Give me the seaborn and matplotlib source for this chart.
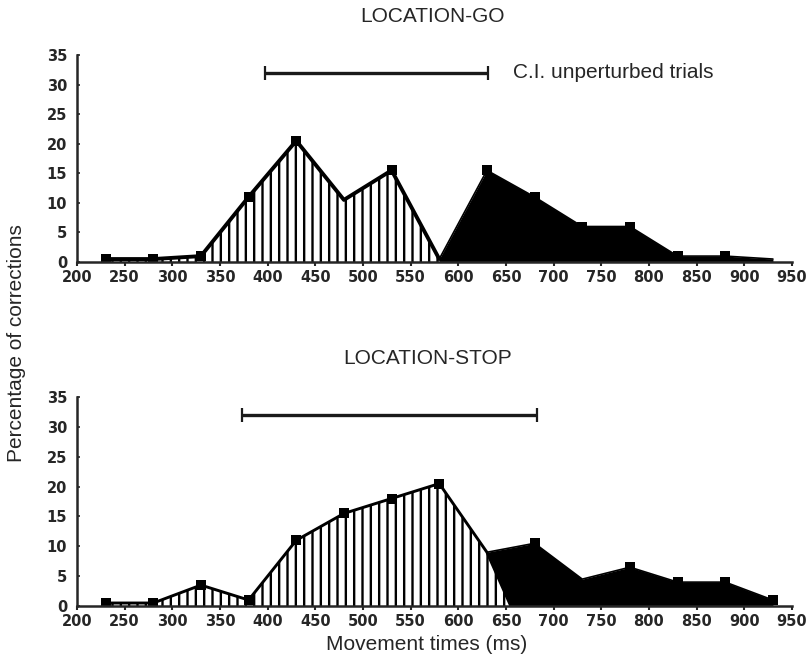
import matplotlib
matplotlib.use("Agg")
import matplotlib.pyplot as plt
import seaborn as sns
import pandas as pd

# Movement-time bins (ms) and percentage of corrections per bin
go_early_t = [230, 280, 330, 380, 430, 480, 530, 580]
go_early = [0.5, 0.5, 1, 11, 20.5, 10.5, 15.5, 0.5]
go_late_t = [580, 630, 680, 730, 780, 830, 880, 930]
go_late = [0.5, 15.5, 11, 6, 6, 1, 1, 0.5]

stop_early_t = [230, 280, 330, 380, 430, 480, 530, 580, 630, 655]
stop_early = [0.5, 0.5, 3.5, 1, 11, 15.5, 18, 20.5, 9, 0]
stop_late_t = [630, 680, 730, 780, 830, 880, 930]
stop_late = [9, 10.5, 4.5, 6.5, 4, 4, 1]

# Confidence intervals of unperturbed trials (ms)
go_ci = [397, 631]
stop_ci = [373, 682]
ci_level = 32

x_ticks = list(range(200, 951, 50))
y_ticks = list(range(0, 36, 5))

# which bins carry a square marker
go_early_marks = [0, 1, 2, 3, 4, 6]
go_late_marks = [1, 2, 3, 4, 5, 6]
stop_early_marks = [0, 1, 2, 3, 4, 5, 6, 7]
stop_late_marks = [1, 3, 4, 5, 6]

sns.set_style("ticks")
plt.rcParams["font.family"] = ["Liberation Sans", "DejaVu Sans"]
plt.rcParams["hatch.linewidth"] = 1.7
plt.rcParams["hatch.color"] = "black"

fig = plt.figure(figsize=(8.08, 6.63), dpi=100)
ax_top = fig.add_axes([77 / 808, 1 - 262 / 663, (792 - 77) / 808, 207 / 663])
ax_bot = fig.add_axes([77 / 808, 1 - 606 / 663, (792 - 77) / 808, 209 / 663])

tick_font = dict(family=["Liberation Sans Narrow", "DejaVu Sans"], weight="bold", size=10.5)
label_size = 15


def panel(ax, et, ev, lt, lv, em, lm, ci, lw, with_label):
    early = pd.DataFrame({"t": et, "v": ev})
    late = pd.DataFrame({"t": lt, "v": lv})
    ax.fill_between(late["t"], late["v"], 0, color="black", linewidth=0, zorder=2)
    ax.fill_between(early["t"], early["v"], 0, facecolor="white", edgecolor="black",
                    hatch="||", linewidth=0, zorder=3)
    sns.lineplot(data=late, x="t", y="v", ax=ax, color="black", lw=1.2, zorder=4)
    sns.lineplot(data=early, x="t", y="v", ax=ax, color="black", lw=lw, zorder=5)
    marks = pd.concat([early.iloc[em], late.iloc[lm]])
    sns.scatterplot(data=marks, x="t", y="v", ax=ax, marker="s", s=62, color="black",
                    edgecolor="black", linewidth=0, zorder=6)
    mid = (ci[0] + ci[1]) / 2
    ax.errorbar([mid], [ci_level], xerr=[[mid - ci[0]], [ci[1] - mid]], fmt="none",
                ecolor="#1a1a1a", elinewidth=2.4, capsize=5, capthick=1.6, zorder=5)
    if with_label:
        ax.text(657, ci_level, "C.I. unperturbed trials", fontsize=label_size,
                va="center", ha="left")
    ax.set_xlim(200, 950)
    ax.set_ylim(0, 35)
    ax.set_xticks(x_ticks)
    ax.set_yticks(y_ticks)
    ax.set_xticklabels([str(t) for t in x_ticks], fontdict=tick_font)
    ax.set_yticklabels([str(t) for t in y_ticks], fontdict=tick_font)
    ax.tick_params(axis="x", direction="out", length=3, width=1.5, pad=3)
    ax.tick_params(axis="y", direction="in", length=2, width=1.2, pad=7)
    ax.set_xlabel("")
    ax.set_ylabel("")
    for side in ("top", "right"):
        ax.spines[side].set_visible(False)
    for side in ("left", "bottom"):
        ax.spines[side].set_linewidth(1.8)
    ax.spines["left"].set_zorder(7)
    ax.spines["bottom"].set_zorder(7)


panel(ax_top, go_early_t, go_early, go_late_t, go_late, go_early_marks, go_late_marks,
      go_ci, 2.8, True)
panel(ax_bot, stop_early_t, stop_early, stop_late_t, stop_late, stop_early_marks,
      stop_late_marks, stop_ci, 2.1, False)

fig.text(433 / 808, 1 - 17 / 663, "LOCATION-GO", fontsize=label_size, ha="center", va="center")
fig.text(428 / 808, 1 - 359 / 663, "LOCATION-STOP", fontsize=label_size, ha="center",
         va="center")
fig.text(17 / 808, 1 - 343 / 663, "Percentage of corrections", fontsize=label_size,
         rotation=90, ha="center", va="center")
fig.text(427 / 808, 1 - 645 / 663, "Movement times (ms)", fontsize=label_size, ha="center",
         va="center")

fig.savefig("out.png", dpi=100)
